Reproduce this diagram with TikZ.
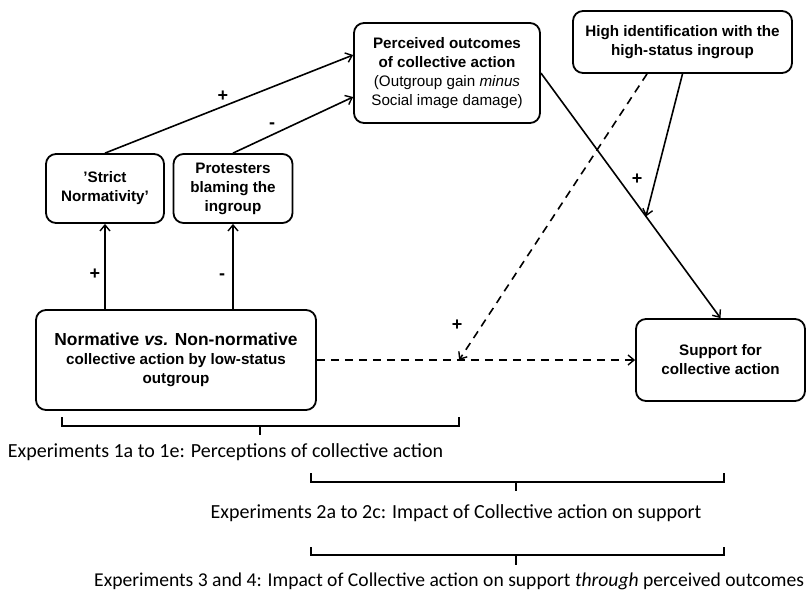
\documentclass[tikz,border=0pt]{standalone}
\usepackage{fontspec}
\setmainfont{Liberation Sans}
\newfontfamily\carlfont{Carlito}
\usetikzlibrary{arrows.meta,calc}
\begin{document}
\begin{tikzpicture}[x=1pt,y=-1pt,
  box/.style={draw,line width=1.8pt,rounded corners=10pt,inner sep=0pt,align=center,font=\bfseries\fontsize{15.2}{19}\selectfont},
  conn/.style={line width=1.6pt,-{Straight Barb[length=6pt,width=10pt,line width=1.4pt]}},
  dconn/.style={conn,dash pattern=on 8pt off 6pt},
  sign/.style={font=\bfseries\fontsize{18}{18}\selectfont,inner sep=0pt},
  brk/.style={line width=2.6pt},
  exp/.style={font=\carlfont\fontsize{20}{22}\selectfont,inner sep=0pt}]
\useasboundingbox (0,0) rectangle (808,590);

\node[box,minimum width=118pt,minimum height=69pt] (strict) at (105,188.5) {’Strict\\Normativity’};
\node[box,minimum width=119pt,minimum height=69pt] (prot) at (233,188.5) {Protesters\\blaming the\\ingroup};
\node[box,minimum width=186pt,minimum height=100pt] (perc) at (447,73) {Perceived outcomes\\of collective action\\{\mdseries (Outgroup gain \textit{minus}}\\{\mdseries Social image damage)}};
\node[box,minimum width=219pt,minimum height=62pt] (high) at (682.5,42) {High identification with the\\high-status ingroup};
\node[box,minimum width=280pt,minimum height=100pt] (norm) at (176,360) {{\fontsize{17.4}{19}\selectfont Normative \textit{vs.} Non-normative}\\collective action by low-status\\outgroup};
\node[box,minimum width=169pt,minimum height=82pt] (supp) at (720.5,360) {Support for\\collective action};

\draw[conn] (strict.north) -- ([yshift=18pt]perc.west);
\draw[conn] (prot.north) -- ([yshift=-24pt]perc.west);
\draw[conn] (norm.north -| strict) -- (strict.south);
\draw[conn] (norm.north -| prot) -- (prot.south);
\draw[conn] (perc.east) -- (supp.north);
\coordinate (m) at ($(perc.east)!0.585!(supp.north)$);
\draw[conn] (high.south) -- (m);
\coordinate (j) at ($(norm.east)!0.447!(supp.west)$);
\draw[dconn] (norm.east) -- (supp.west);
\draw[dconn] ([xshift=-35.5pt]high.south) -- (j);

\node[sign] (p1) at (223,96) {+};
\node[sign] (m1) at (272,126) {-};
\node[sign] (p2) at (95,274) {+};
\node[sign] (m2) at (222,277) {-};
\node[sign] (p3) at (637,179) {+};
\node[sign] (p4) at (457,325) {+};

\draw[brk] (62,417) |- (459,426) -- (459,417);
\draw[brk] (260,426) -- (260,435);
\node[exp] (e1) at (225.5,452) {Experiments 1a to 1e: Perceptions of collective action};
\draw[brk] (311,473) |- (724,482) -- (724,473);
\draw[brk] (516,482) -- (516,491);
\node[exp] (e2) at (456,513) {Experiments 2a to 2c: Impact of Collective action on support};
\draw[brk] (311,547) |- (724,555) -- (724,547);
\draw[brk] (516,555) -- (516,565);
\node[exp,anchor=west,font=\carlfont\fontsize{19.6}{22}\selectfont] (e3) at (94,581) {Experiments 3 and 4: Impact of Collective action on support \textit{through} perceived outcomes};
\end{tikzpicture}
\end{document}
